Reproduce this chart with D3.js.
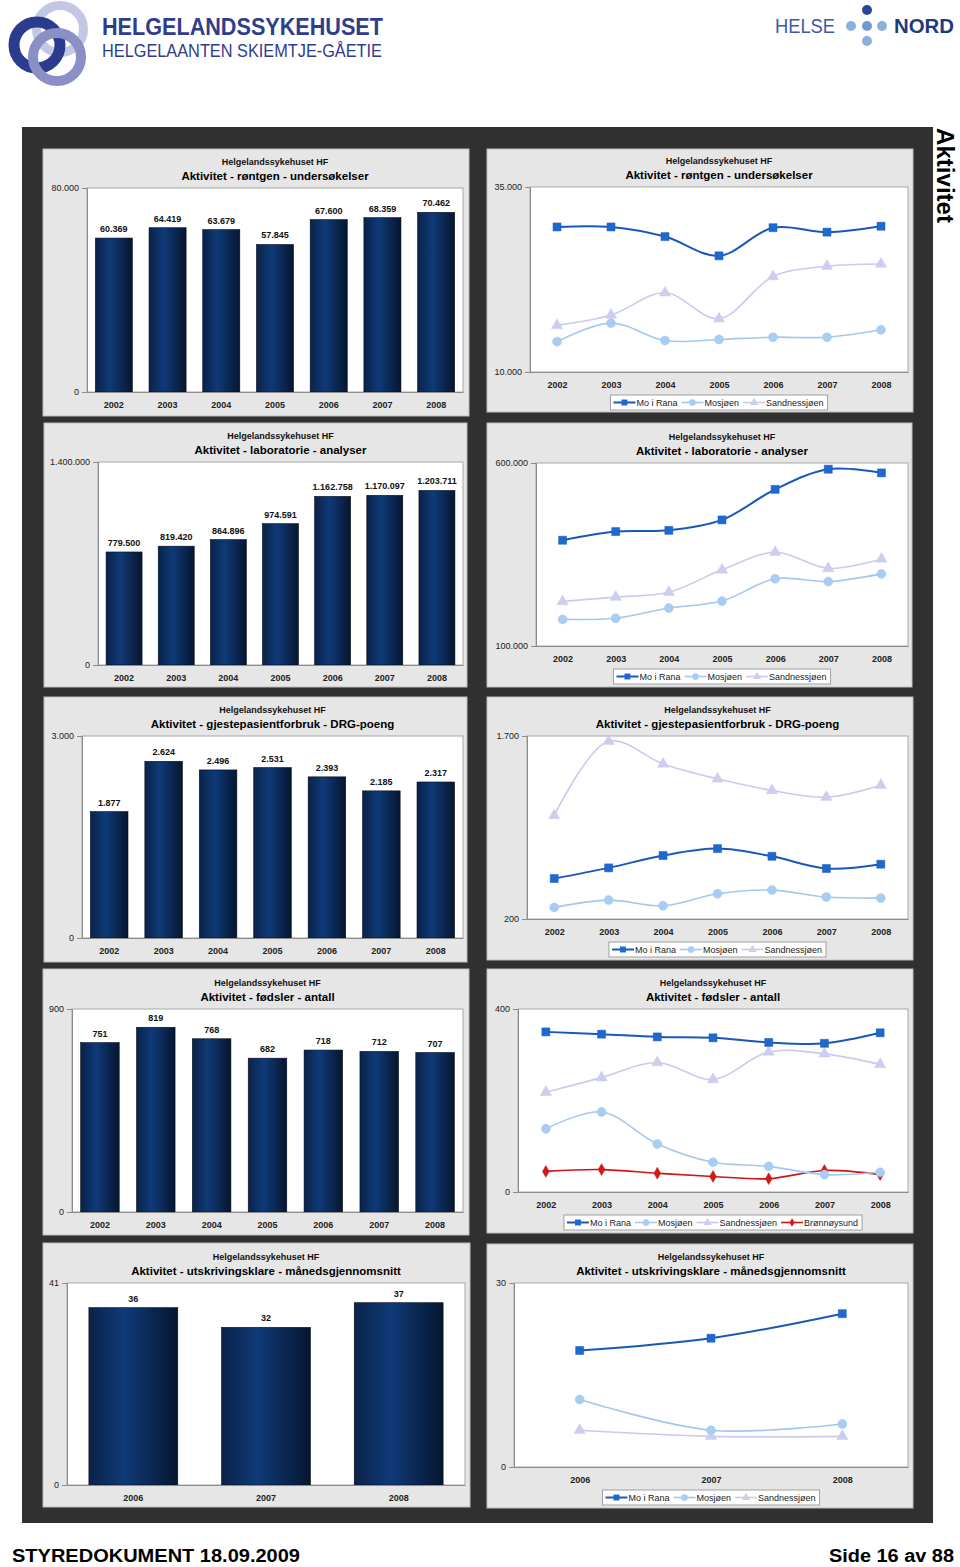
<!DOCTYPE html>
<html>
<head>
<meta charset="utf-8">
<script src="https://cdn.jsdelivr.net/npm/d3@7"></script>
<style>
  body { margin: 0; background: #fff; }
  svg { display: block; font-family: "Liberation Sans", Arial, Helvetica, sans-serif; }
</style>
</head>
<body>
<svg id="page" width="960" height="1567"></svg>
<script>
// ---- data ----
const years7 = ["2002", "2003", "2004", "2005", "2006", "2007", "2008"];
const years3 = ["2006", "2007", "2008"];
const subTitle = "Helgelandssykehuset HF";

const rontgenTitle = "Aktivitet - røntgen - undersøkelser";
const rontgenTotal = [60369, 64419, 63679, 57845, 67600, 68359, 70462];
const rontgenMoIRana = [29600, 29600, 28300, 25700, 29500, 28900, 29700];
const rontgenMosjoen = [14100, 16600, 14250, 14400, 14700, 14700, 15700];
const rontgenSandnessjoen = [16300, 17700, 20700, 17200, 22900, 24300, 24600];
const rontgenBarTicks = [0, 80000];
const rontgenLineTicks = [10000, 35000];

const labTitle = "Aktivitet - laboratorie - analyser";
const labTotal = [779500, 819420, 864896, 974591, 1162758, 1170097, 1203711];
const labMoIRana = [389000, 412700, 416000, 444500, 528000, 583000, 573000];
const labMosjoen = [172700, 176000, 203600, 222700, 283600, 276000, 297000];
const labSandnessjoen = [221800, 233600, 247000, 308000, 356000, 312000, 338000];
const labBarTicks = [0, 1400000];
const labLineTicks = [100000, 600000];

const drgTitle = "Aktivitet - gjestepasientforbruk - DRG-poeng";
const drgTotal = [1877, 2624, 2496, 2531, 2393, 2185, 2317];
const drgMoIRana = [532, 619, 720, 777, 714, 614, 649];
const drgMosjoen = [295, 355, 309, 407, 437, 380, 371];
const drgSandnessjoen = [1049, 1657, 1471, 1349, 1254, 1199, 1297];
const drgBarTicks = [0, 3000];
const drgLineTicks = [200, 1700];

const fodslerTitle = "Aktivitet - fødsler - antall";
const fodslerTotal = [751, 819, 768, 682, 718, 712, 707];
const fodslerMoIRana = [350, 345, 339, 337, 327, 325, 348];
const fodslerMosjoen = [138, 175, 105, 65, 56, 38, 43];
const fodslerSandnessjoen = [218, 250, 283, 246, 306, 302, 279];
const fodslerBronnoysund = [45, 49, 41, 34, 29, 47, 38];
const fodslerBarTicks = [0, 900];
const fodslerLineTicks = [0, 400];

const utskrTitle = "Aktivitet - utskrivingsklare - månedsgjennomsnitt";
const utskrTotal = [36, 32, 37];
const utskrMoIRana = [19, 21, 25];
const utskrMosjoen = [11, 6, 7];
const utskrSandnessjoen = [6, 5, 5];
const utskrBarTicks = [0, 41];
const utskrLineTicks = [0, 30];

// ---- styles ----
const fmt = d3.formatLocale({ decimal: ",", thousands: ".", grouping: [3], currency: ["", ""] }).format(",d");

const seriesStyle = {
  "Mo i Rana":    { stroke: "#1a58b8", fill: "#1e69d0", symbol: d3.symbolSquare,   size: 64, width: 2 },
  "Mosjøen":      { stroke: "#a3c8ee", fill: "#a9cdf2", symbol: d3.symbolCircle,   size: 64, width: 1.6 },
  "Sandnessjøen": { stroke: "#cacaee", fill: "#cdcdf0", symbol: d3.symbolTriangle, size: 55, width: 1.6 },
  "Brønnøysund":  { stroke: "#d01515", fill: "#d41818", symbol: d3.symbolDiamond,  size: 40, width: 1.6 }
};

const svg = d3.select("#page");

// gradient for bars
const defs = svg.append("defs");
const grad = defs.append("linearGradient").attr("id", "barGrad")
  .attr("x1", "0%").attr("x2", "100%").attr("y1", "0%").attr("y2", "0%");
grad.append("stop").attr("offset", "0%").attr("stop-color", "#0a2248");
grad.append("stop").attr("offset", "40%").attr("stop-color", "#0f3a78");
grad.append("stop").attr("offset", "100%").attr("stop-color", "#06162f");

/*******************************/
/*     Header and frame        */
/*******************************/
const logo = svg.append("g");
logo.append("circle").attr("cx", 60).attr("cy", 29).attr("r", 23.5)
  .attr("fill", "none").attr("stroke", "#c4c7e3").attr("stroke-width", 9);
logo.append("circle").attr("cx", 37).attr("cy", 45).attr("r", 23)
  .attr("fill", "none").attr("stroke", "#2b3c8e").attr("stroke-width", 11);
logo.append("circle").attr("cx", 57).attr("cy", 57).attr("r", 24)
  .attr("fill", "none").attr("stroke", "#8a8fc6").attr("stroke-width", 10);
logo.append("text").attr("x", 102).attr("y", 35)
  .attr("font-size", 23).attr("font-weight", "bold").attr("fill", "#2e3d8c")
  .attr("textLength", 281).attr("lengthAdjust", "spacingAndGlyphs")
  .text("HELGELANDSSYKEHUSET");
logo.append("text").attr("x", 102).attr("y", 57)
  .attr("font-size", 18).attr("fill", "#2e3d8c")
  .attr("textLength", 280).attr("lengthAdjust", "spacingAndGlyphs")
  .text("HELGELAANTEN SKIEMTJE-GÅETIE");

const nord = svg.append("g");
nord.append("text").attr("x", 775).attr("y", 33).attr("font-size", 20).attr("fill", "#3a5da0")
  .attr("textLength", 60).attr("lengthAdjust", "spacingAndGlyphs").text("HELSE");
nord.append("text").attr("x", 894).attr("y", 33).attr("font-size", 20).attr("font-weight", "bold")
  .attr("fill", "#1e3a7e").attr("textLength", 60).attr("lengthAdjust", "spacingAndGlyphs").text("NORD");
[[867, 10, "#27479a"], [851, 26, "#8ab0dc"], [867, 26, "#6f9bd0"], [882, 26, "#8ab0dc"], [867, 41, "#8ab0dc"]]
  .forEach(([cx, cy, c]) => nord.append("circle").attr("cx", cx).attr("cy", cy).attr("r", 5).attr("fill", c));

svg.append("rect").attr("x", 22).attr("y", 127).attr("width", 911).attr("height", 1396).attr("fill", "#303030");

svg.append("text").attr("transform", "translate(937,128) rotate(90)")
  .attr("font-size", 24).attr("font-weight", "bold").attr("fill", "#000")
  .attr("textLength", 95).attr("lengthAdjust", "spacingAndGlyphs").text("Aktivitet");

svg.append("text").attr("x", 12).attr("y", 1562).attr("font-size", 18).attr("font-weight", "bold")
  .attr("textLength", 288).attr("lengthAdjust", "spacingAndGlyphs").text("STYREDOKUMENT 18.09.2009");
svg.append("text").attr("x", 829).attr("y", 1562).attr("font-size", 18).attr("font-weight", "bold")
  .attr("textLength", 125).attr("lengthAdjust", "spacingAndGlyphs").text("Side 16 av 88");

/*******************************/
/*       Panel helpers         */
/*******************************/
function panelBase(p) {
  const g = svg.append("g");
  const [bx0, by0, bx1, by1] = p.box;
  const [px0, py0, px1, py1] = p.plot;
  g.append("rect").attr("x", bx0).attr("y", by0).attr("width", bx1 - bx0).attr("height", by1 - by0)
    .attr("fill", "#e6e6e6").attr("stroke", "#bcbcbc").attr("stroke-width", 1);
  g.append("rect").attr("x", px0).attr("y", py0).attr("width", px1 - px0).attr("height", py1 - py0)
    .attr("fill", "#fff").attr("stroke", "#a8a8a8").attr("stroke-width", 1);
  const cx = (px0 + px1) / 2;
  g.append("text").attr("x", cx).attr("y", py0 - 23).attr("text-anchor", "middle")
    .attr("font-size", 9).attr("font-weight", "bold").attr("fill", "#111").text(subTitle);
  g.append("text").attr("x", cx).attr("y", py0 - 8).attr("text-anchor", "middle")
    .attr("font-size", 11.5).attr("font-weight", "bold").attr("fill", "#000").text(p.title);
  return g;
}

function styleAxis(ax, bold) {
  ax.select(".domain").attr("stroke", "#8c8c8c");
  ax.selectAll(".tick line").attr("stroke", "#8c8c8c");
  ax.selectAll(".tick text").attr("font-size", 9).attr("fill", "#222")
    .attr("font-family", "Liberation Sans, Arial, sans-serif")
    .attr("font-weight", bold ? "bold" : "normal");
}

function drawBarPanel(p) {
  const g = panelBase(p);
  const [px0, py0, px1, py1] = p.plot;
  const x = d3.scaleBand().domain(p.cats).range([px0, px1])
    .paddingInner(p.pad).paddingOuter(p.pad / 2);
  const y = d3.scaleLinear().domain(p.ticks).range([py1, py0]);
  const data = p.cats.map((c, i) => ({ cat: c, value: p.values[i] }));

  g.selectAll(".bar").data(data).join("rect")
    .attr("class", "bar")
    .attr("x", d => x(d.cat))
    .attr("y", d => y(d.value))
    .attr("width", x.bandwidth())
    .attr("height", d => y(0) - y(d.value))
    .attr("fill", "url(#barGrad)")
    .attr("stroke", "#050c1c").attr("stroke-width", 0.6);

  g.selectAll(".val").data(data).join("text")
    .attr("class", "val")
    .attr("x", d => x(d.cat) + x.bandwidth() / 2)
    .attr("y", d => y(d.value) - 6)
    .attr("text-anchor", "middle")
    .attr("font-size", 9).attr("font-weight", "bold").attr("fill", "#111")
    .text(d => fmt(d.value));

  const left = g.append("g").attr("transform", `translate(${px0},0)`)
    .call(d3.axisLeft(y).tickValues(p.ticks).tickFormat(fmt).tickSize(5).tickPadding(3));
  styleAxis(left, false);
  const bottom = g.append("g").attr("transform", `translate(0,${py1})`)
    .call(d3.axisBottom(x).tickSize(0).tickPadding(10));
  styleAxis(bottom, true);
}

function drawLinePanel(p) {
  const g = panelBase(p);
  const [px0, py0, px1, py1] = p.plot;
  const x = d3.scalePoint().domain(p.cats).range([px0, px1]).padding(0.5);
  const y = d3.scaleLinear().domain(p.ticks).range([py1, py0]);

  const left = g.append("g").attr("transform", `translate(${px0},0)`)
    .call(d3.axisLeft(y).tickValues(p.ticks).tickFormat(fmt).tickSize(5).tickPadding(3));
  styleAxis(left, false);
  const bottom = g.append("g").attr("transform", `translate(0,${py1})`)
    .call(d3.axisBottom(x).tickSize(0).tickPadding(10));
  styleAxis(bottom, true);

  const line = d3.line()
    .x((d, i) => x(p.cats[i]))
    .y(d => y(d))
    .curve(d3.curveCatmullRom.alpha(0.5));

  // draw light series first so Mo i Rana sits on top
  const order = p.series.slice().reverse();
  order.forEach(s => {
    const st = seriesStyle[s.name];
    g.append("path").datum(s.values)
      .attr("d", line).attr("fill", "none")
      .attr("stroke", st.stroke).attr("stroke-width", st.width);
    g.selectAll(null).data(s.values).join("path")
      .attr("transform", (d, i) => `translate(${x(p.cats[i])},${y(d)})`)
      .attr("d", d3.symbol().type(st.symbol).size(st.size))
      .attr("fill", st.fill).attr("stroke", st.stroke).attr("stroke-width", 0.5);
  });

  // legend
  const lg = g.append("g");
  const box = lg.append("rect");
  let lx = 3;
  p.series.forEach(s => {
    const st = seriesStyle[s.name];
    const e = lg.append("g").attr("transform", `translate(${lx},0)`);
    e.append("line").attr("x1", 0).attr("x2", 22).attr("y1", 0).attr("y2", 0)
      .attr("stroke", st.stroke).attr("stroke-width", st.width);
    e.append("path").attr("transform", "translate(11,0)")
      .attr("d", d3.symbol().type(st.symbol).size(st.size * 0.55)).attr("fill", st.fill);
    const t = e.append("text").attr("x", 23).attr("y", 0).attr("dy", "0.35em")
      .attr("font-size", 9).attr("fill", "#222").text(s.name);
    lx += 23 + t.node().getComputedTextLength() + 4;
  });
  const lw = lx;
  box.attr("x", 0).attr("y", -7.5).attr("width", lw).attr("height", 15)
    .attr("fill", "#fff").attr("stroke", "#a0a0a0").attr("stroke-width", 1);
  lg.attr("transform", `translate(${(px0 + px1) / 2 - lw / 2},${py1 + 30.5})`);
}

/*******************************/
/*         The panels          */
/*******************************/
drawBarPanel({ box: [43, 149, 469, 416], plot: [87, 188, 463, 392], pad: 0.31,
  title: rontgenTitle, cats: years7, values: rontgenTotal, ticks: rontgenBarTicks });
drawLinePanel({ box: [487, 149, 913, 412], plot: [530, 187, 908, 372],
  title: rontgenTitle, cats: years7, ticks: rontgenLineTicks,
  series: [{ name: "Mo i Rana", values: rontgenMoIRana }, { name: "Mosjøen", values: rontgenMosjoen },
           { name: "Sandnessjøen", values: rontgenSandnessjoen }] });

drawBarPanel({ box: [44, 423, 467, 687], plot: [98, 462, 463, 665], pad: 0.31,
  title: labTitle, cats: years7, values: labTotal, ticks: labBarTicks });
drawLinePanel({ box: [487, 423, 912, 687], plot: [536, 463, 908, 646],
  title: labTitle, cats: years7, ticks: labLineTicks,
  series: [{ name: "Mo i Rana", values: labMoIRana }, { name: "Mosjøen", values: labMosjoen },
           { name: "Sandnessjøen", values: labSandnessjoen }] });

drawBarPanel({ box: [44, 697, 467, 962], plot: [82, 736, 463, 938], pad: 0.31,
  title: drgTitle, cats: years7, values: drgTotal, ticks: drgBarTicks });
drawLinePanel({ box: [487, 697, 913, 960], plot: [527, 736, 908, 919],
  title: drgTitle, cats: years7, ticks: drgLineTicks,
  series: [{ name: "Mo i Rana", values: drgMoIRana }, { name: "Mosjøen", values: drgMosjoen },
           { name: "Sandnessjøen", values: drgSandnessjoen }] });

drawBarPanel({ box: [43, 969, 469, 1235], plot: [72, 1009, 463, 1212], pad: 0.31,
  title: fodslerTitle, cats: years7, values: fodslerTotal, ticks: fodslerBarTicks });
drawLinePanel({ box: [487, 969, 913, 1233], plot: [518, 1009, 908, 1192],
  title: fodslerTitle, cats: years7, ticks: fodslerLineTicks,
  series: [{ name: "Mo i Rana", values: fodslerMoIRana }, { name: "Mosjøen", values: fodslerMosjoen },
           { name: "Sandnessjøen", values: fodslerSandnessjoen }, { name: "Brønnøysund", values: fodslerBronnoysund }] });

drawBarPanel({ box: [43, 1243, 470, 1507], plot: [67, 1283, 465, 1485], pad: 0.33,
  title: utskrTitle, cats: years3, values: utskrTotal, ticks: utskrBarTicks });
drawLinePanel({ box: [487, 1244, 913, 1508], plot: [514, 1283, 908, 1467],
  title: utskrTitle, cats: years3, ticks: utskrLineTicks,
  series: [{ name: "Mo i Rana", values: utskrMoIRana }, { name: "Mosjøen", values: utskrMosjoen },
           { name: "Sandnessjøen", values: utskrSandnessjoen }] });
</script>
</body>
</html>
